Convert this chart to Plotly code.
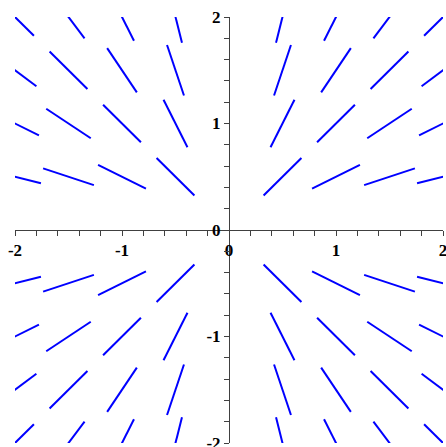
import numpy as np
import plotly.graph_objects as go

# Grid points where the direction field is sampled
grid_x = [-2, -1.5, -1, -0.5, 0.5, 1, 1.5, 2]
grid_y = [-2, -1.5, -1, -0.5, 0.5, 1, 1.5, 2]
seg_len = 0.5  # length of every slope segment (data units)

x_ticks = [-2, -1, 0, 1, 2]
y_ticks = [-2, -1, 0, 1, 2]


def slope(x, y):
    """Right-hand side of dy/dx = y/x."""
    return y / x


# Build the line segments, centred on each grid point
xs, ys = [], []
for x0 in grid_x:
    for y0 in grid_y:
        m = slope(x0, y0)
        norm = np.hypot(1.0, m)
        dx = 0.5 * seg_len / norm
        dy = 0.5 * seg_len * m / norm
        xs += [x0 - dx, x0 + dx, None]
        ys += [y0 - dy, y0 + dy, None]

fig = go.Figure(
    go.Scatter(
        x=xs, y=ys, mode="lines",
        line=dict(color="#0000ff", width=2),
        hoverinfo="skip", showlegend=False,
    )
)

tick_font = dict(family="Liberation Serif", size=17, color="black", weight="bold")
axis_common = dict(
    range=[-2, 2],
    anchor="free",
    position=0.5,
    showline=True,
    linecolor="#404040",
    linewidth=1,
    showgrid=False,
    zeroline=False,
    ticks="outside",
    ticklen=5,
    tickwidth=1,
    tickcolor="#404040",
    tickfont=tick_font,
    ticklabeloverflow="allow",
    minor=dict(dtick=0.2, ticks="outside", ticklen=5, tickwidth=1,
               tickcolor="#404040", showgrid=False),
    automargin=False,
    fixedrange=True,
)

fig.update_layout(
    width=446, height=447,
    margin=dict(l=15, r=3, t=17, b=4),
    paper_bgcolor="white",
    plot_bgcolor="white",
    xaxis=dict(axis_common, tickvals=x_ticks, ticktext=[str(v) for v in x_ticks]),
    yaxis=dict(axis_common, tickvals=y_ticks, ticktext=[str(v) for v in y_ticks]),
)

fig.write_html("out.html")
